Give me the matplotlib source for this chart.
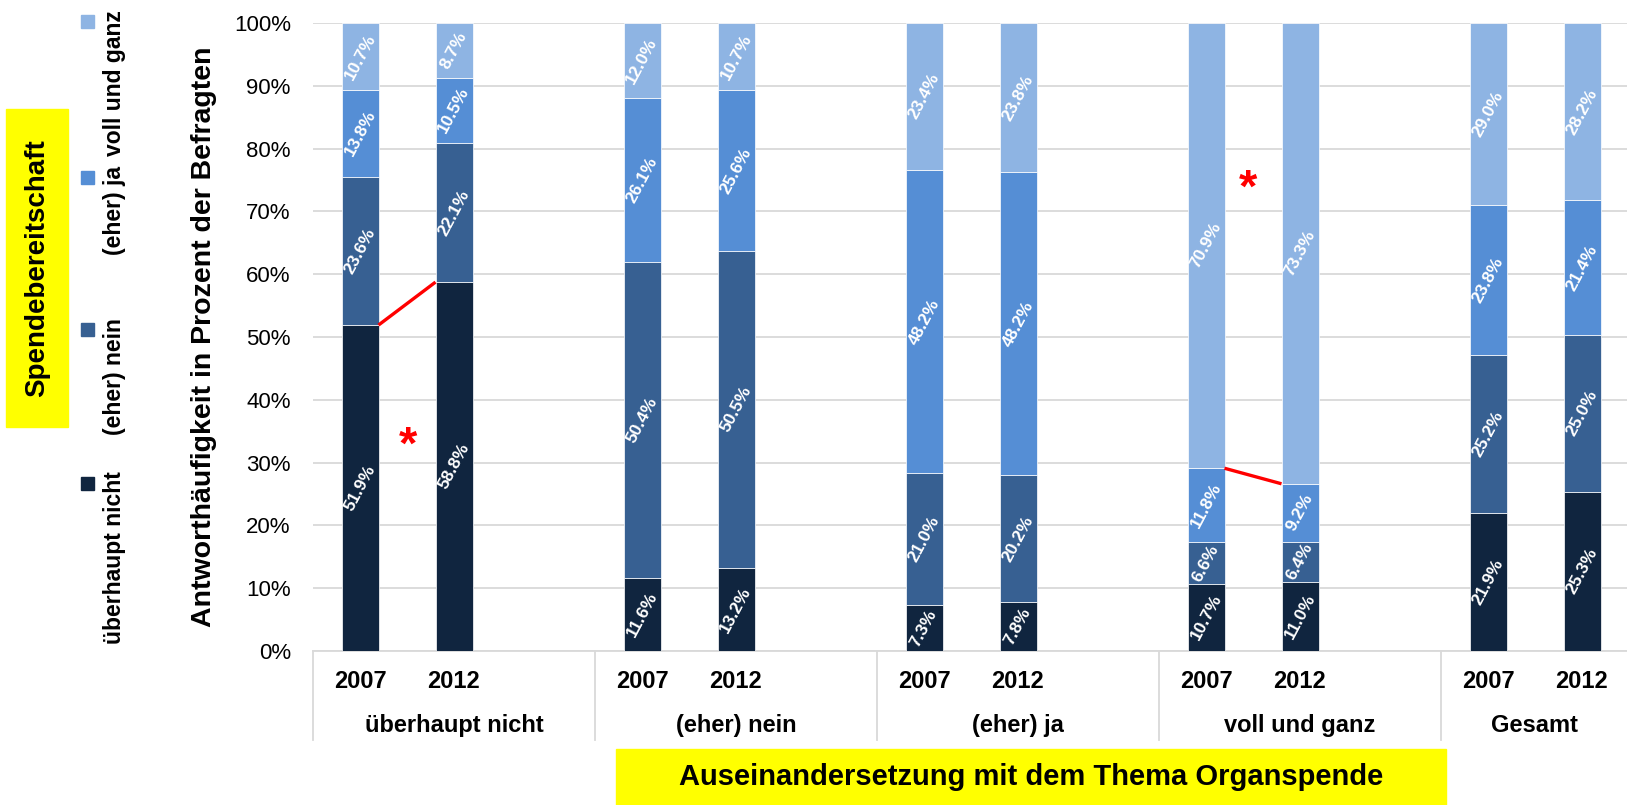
import numpy as np
import matplotlib.pyplot as plt
from matplotlib.patches import Rectangle

plt.rcParams['font.family'] = ['Liberation Sans', 'DejaVu Sans']

# ---- data -------------------------------------------------------------
groups = ['überhaupt nicht', '(eher) nein', '(eher) ja', 'voll und ganz', 'Gesamt']
years = ['2007', '2012']
series = ['überhaupt nicht', '(eher) nein', '(eher) ja', 'voll und ganz']

# values per group: [2007, 2012]
ueberhaupt_nicht = [[51.9, 58.8], [11.6, 13.2], [7.3, 7.8], [10.7, 11.0], [21.9, 25.3]]
eher_nein = [[23.6, 22.1], [50.4, 50.5], [21.0, 20.2], [6.6, 6.4], [25.2, 25.0]]
eher_ja = [[13.8, 10.5], [26.1, 25.6], [48.2, 48.2], [11.8, 9.2], [23.8, 21.4]]
voll_und_ganz = [[10.7, 8.7], [12.0, 10.7], [23.4, 23.8], [70.9, 73.3], [29.0, 28.2]]

# significant changes (group index, boundary above series index)
sig_changes = [(0, 0), (3, 2)]

colors = ['#10253F', '#376092', '#558ED5', '#8EB4E3']

# ---- layout -----------------------------------------------------------
W, H = 1627, 805
fig = plt.figure(figsize=(W / 100, H / 100), dpi=100)

ax_l, ax_r, ax_t, ax_b = 313, 1627, 23, 651
slot = 94.0  # px per category slot
x_max = (ax_r - ax_l) / slot
ax = fig.add_axes([ax_l / W, 1 - ax_b / H, (ax_r - ax_l) / W, (ax_b - ax_t) / H])

data = np.array([ueberhaupt_nicht, eher_nein, eher_ja, voll_und_ganz])  # (series, group, year)
totals = data.sum(axis=0)
norm = data / totals * 100

bar_w = 37 / slot
positions = np.array([[g * 3 + 0.5 + j for j in range(2)] for g in range(len(groups))])

bottoms = np.zeros(positions.shape)
for s in range(len(series)):
    ax.bar(positions.ravel(), norm[s].ravel(), bar_w, bottom=bottoms.ravel(),
           color=colors[s], edgecolor='#FFFFFF', linewidth=0.5, zorder=3)
    for g in range(len(groups)):
        for j in range(2):
            yc = bottoms[g, j] + norm[s, g, j] / 2
            ax.text(positions[g, j], yc, f'{data[s, g, j]:.1f}%', rotation=62,
                    ha='center', va='center', color='white', fontsize=12.5,
                    fontweight='bold', zorder=4)
    bottoms += norm[s]

# red lines for significant changes
cum = np.cumsum(norm, axis=0)
for g, s in sig_changes:
    ax.plot([positions[g, 0] + bar_w / 2, positions[g, 1] - bar_w / 2],
            [cum[s, g, 0], cum[s, g, 1]], color='red', lw=2.4, zorder=5,
            solid_capstyle='butt')

ax.text(1.01, 32.5, '*', color='red', fontsize=34, fontweight='bold',
        ha='center', va='center')
ax.text(9.95, 73.5, '*', color='red', fontsize=34, fontweight='bold',
        ha='center', va='center')

ax.set_xlim(0, x_max)
ax.set_ylim(0, 100)
ax.set_yticks(np.arange(0, 101, 10))
ax.set_yticklabels([f'{v}%' for v in range(0, 101, 10)], fontsize=16)
ax.tick_params(axis='y', length=0, pad=16)
ax.tick_params(axis='x', length=0, labelbottom=False)
ax.set_xticks([])
ax.grid(axis='y', color='#D9D9D9', lw=1.3, zorder=0)
ax.set_axisbelow(True)
for sp in ['left', 'right', 'top']:
    ax.spines[sp].set_visible(False)
ax.spines['bottom'].set_color('#D9D9D9')
ax.spines['bottom'].set_linewidth(1.3)

ax.set_ylabel('Antworthäufigkeit in Prozent der Befragten', fontsize=20.5,
              fontweight='bold', labelpad=12)

# category labels
trans = ax.get_xaxis_transform()
ph = ax_b - ax_t
y_year = -(681 - ax_b) / ph
y_group = -(725 - ax_b) / ph
y_sep = -(740 - ax_b) / ph
for g, name in enumerate(groups):
    for j, yr in enumerate(years):
        ax.text(positions[g, j], y_year, yr, transform=trans, ha='center',
                va='center', fontsize=17, fontweight='bold')
    x0 = g * 3
    x1 = min(g * 3 + 3, x_max)
    ax.text((x0 + x1) / 2, y_group, name, transform=trans, ha='center',
            va='center', fontsize=17, fontweight='bold')
    ax.plot([x0, x0], [0, y_sep], transform=trans, color='#D9D9D9', lw=1.3,
            clip_on=False)

# yellow title boxes
fig.patches.append(Rectangle((616 / W, 0), (1446 - 616) / W, (H - 749) / H,
                             transform=fig.transFigure, color='#FFFF00', zorder=0))
fig.text(1031 / W, 1 - 777 / H, 'Auseinandersetzung mit dem Thema Organspende',
         ha='center', va='center', fontsize=21, fontweight='bold')

fig.patches.append(Rectangle((6 / W, 1 - 427 / H), 62 / W, (427 - 109) / H,
                             transform=fig.transFigure, color='#FFFF00', zorder=0))
fig.text(37 / W, 1 - 268 / H, 'Spendebereitschaft', rotation=90,
         ha='center', va='center', fontsize=20, fontweight='bold')

# rotated legend
sq_y = [483, 330, 178, 22]
for s, name in enumerate(series):
    fig.patches.append(Rectangle(((87 - 6.5) / W, 1 - (sq_y[s] + 6.5) / H), 13 / W, 13 / H,
                                 transform=fig.transFigure, color=colors[s]))
    fig.text(115 / W, 1 - (sq_y[s] - 12) / H, name, rotation=90, ha='center',
             va='top', fontsize=16.5, fontweight='bold')

fig.savefig('out.png', dpi=100)
